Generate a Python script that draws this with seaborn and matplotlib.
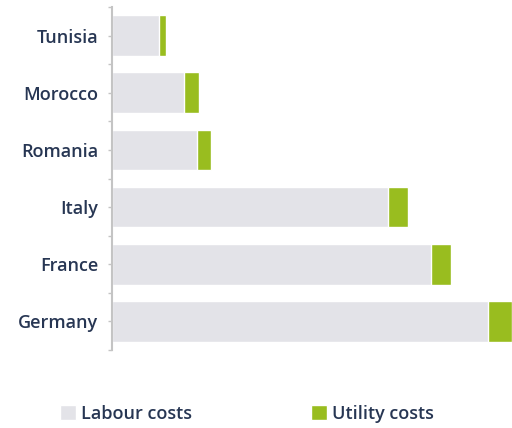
import matplotlib.pyplot as plt
import seaborn as sns
import pandas as pd
import numpy as np
from matplotlib.patches import Patch

# Values (arbitrary cost units)
countries = ['Tunisia', 'Morocco', 'Romania', 'Italy', 'France', 'Germany']
labour = [4.7, 7.2, 8.5, 27.6, 31.9, 37.6]
utility = [0.7, 1.5, 1.4, 2.0, 2.0, 2.4]

labour_col = '#e3e3e8'
utility_col = '#99bd1f'
text_col = '#273653'
axis_col = '#c4c4c4'

df = pd.DataFrame({'country': countries, 'labour': labour, 'utility': utility})
df['total'] = df['labour'] + df['utility']

sns.set_style('white')
plt.rcParams['font.family'] = ['Open Sans', 'DejaVu Sans']
plt.rcParams['font.weight'] = 'semibold'

fig = plt.figure(figsize=(5.12, 4.28), dpi=100)
ax = fig.add_axes([112 / 512, 1 - 350 / 428, 400 / 512, 343 / 428])

# stacked bars: totals in green underneath, labour drawn on top
sns.barplot(data=df, x='total', y='country', color=utility_col, width=0.71,
            saturation=1, ax=ax, orient='h')
sns.barplot(data=df, x='labour', y='country', color=labour_col, width=0.71,
            saturation=1, ax=ax, orient='h')

ax.set_xlim(0, df['total'].max())
ax.set_ylim(5.5, -0.5)
ax.set_xlabel('')
ax.set_ylabel('')
ax.set_xticks([])

for s in ['top', 'right', 'bottom']:
    ax.spines[s].set_visible(False)
ax.spines['left'].set_color(axis_col)
ax.spines['left'].set_linewidth(1.5)

ax.set_yticks(np.arange(len(countries)))
ax.set_yticklabels(countries)
ax.set_yticks(np.arange(-0.5, len(countries)), minor=True)
ax.tick_params(axis='y', which='major', length=3, width=1, color=axis_col,
               labelsize=13, labelcolor=text_col, pad=7, left=True)
ax.tick_params(axis='y', which='minor', length=3, width=1, color=axis_col, left=True)

handles = [Patch(facecolor=labour_col, label='Labour costs'),
           Patch(facecolor=utility_col, label='Utility costs')]
leg = fig.legend(handles=handles, loc='center', bbox_to_anchor=(247 / 512, 1 - 414 / 428),
                 ncol=2, frameon=False, fontsize=13, handlelength=0.9,
                 handleheight=0.9, handletextpad=0.25, columnspacing=6.6)
for t in leg.get_texts():
    t.set_color(text_col)

plt.savefig('out.png', dpi=100)
